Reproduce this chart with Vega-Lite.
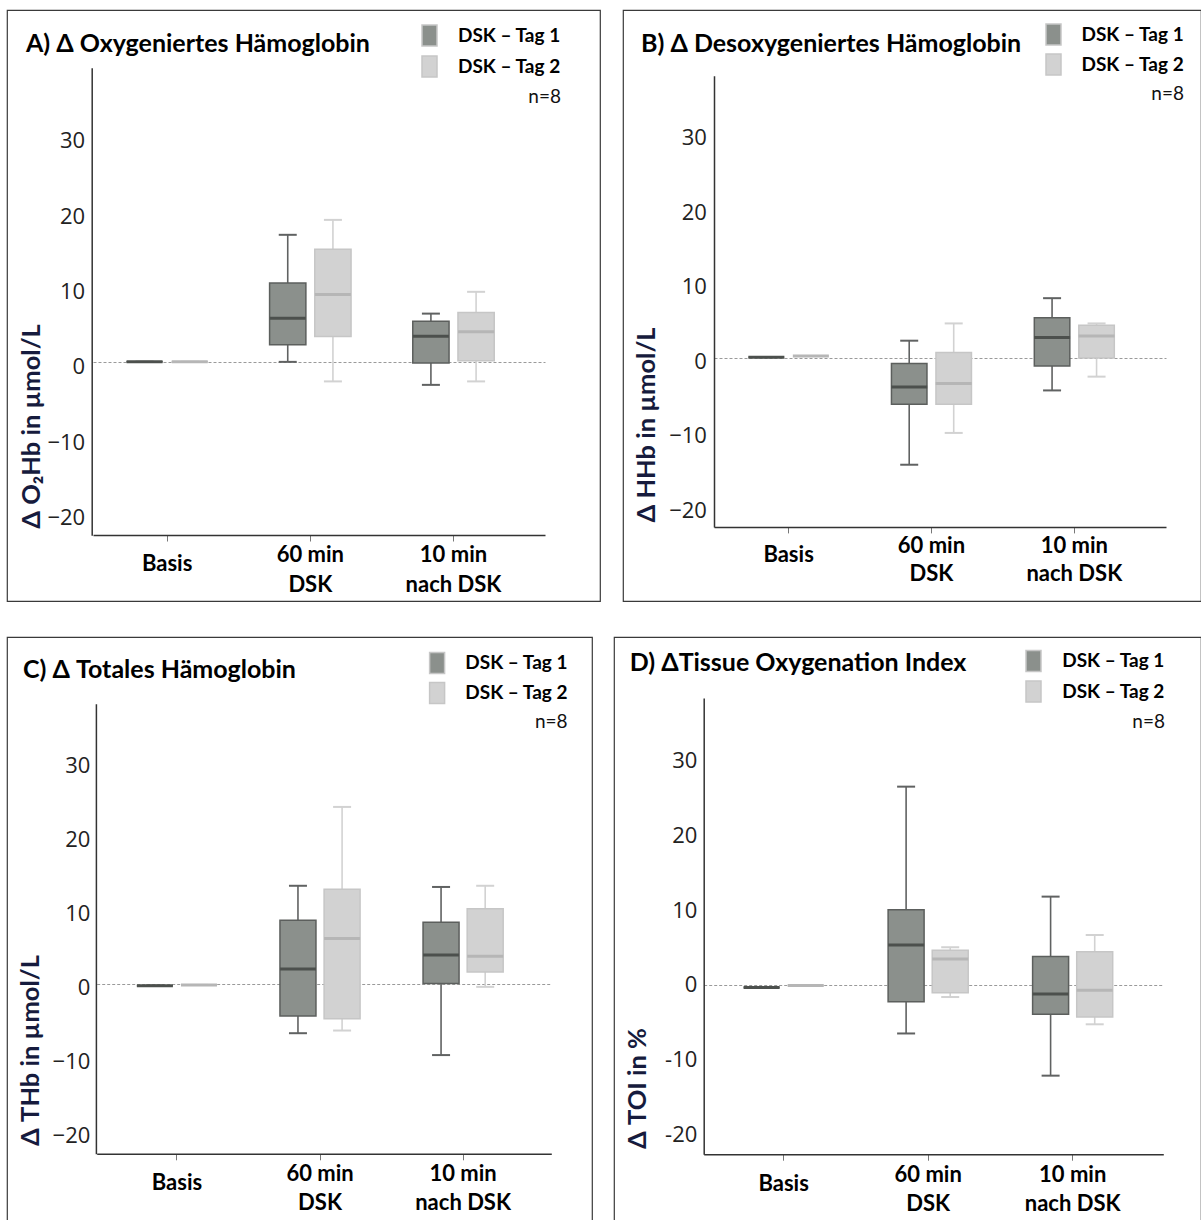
{
  "$schema": "https://vega.github.io/schema/vega-lite/v6.json",
  "padding": {"left": 6, "top": 9, "right": 0, "bottom": 0},
  "background": "white",
  "config": {
    "view": {"stroke": "#3a3a3a", "strokeWidth": 1.2, "fill": "white"},
    "font": "Lato"
  },
  "datasets": {
    "A": [
      {"zeit": "Basis", "tag": "DSK – Tag 1", "min": 0, "q1": 0, "median": 0, "q3": 0, "max": 0},
      {"zeit": "Basis", "tag": "DSK – Tag 2", "min": 0, "q1": 0, "median": 0, "q3": 0, "max": 0},
      {"zeit": "60 min DSK", "tag": "DSK – Tag 1", "min": 0, "q1": 2.28, "median": 5.79, "q3": 10.46, "max": 16.85},
      {"zeit": "60 min DSK", "tag": "DSK – Tag 2", "min": -2.59, "q1": 3.35, "median": 8.93, "q3": 14.92, "max": 18.83},
      {"zeit": "10 min nach DSK", "tag": "DSK – Tag 1", "min": -3.05, "q1": -0.15, "median": 3.4, "q3": 5.38, "max": 6.4},
      {"zeit": "10 min nach DSK", "tag": "DSK – Tag 2", "min": -2.59, "q1": 0.15, "median": 4.01, "q3": 6.55, "max": 9.29}
    ],
    "B": [
      {"zeit": "Basis", "tag": "DSK – Tag 1", "min": 0.1, "q1": 0.1, "median": 0.1, "q3": 0.1, "max": 0.1},
      {"zeit": "Basis", "tag": "DSK – Tag 2", "min": 0.25, "q1": 0.25, "median": 0.25, "q3": 0.25, "max": 0.25},
      {"zeit": "60 min DSK", "tag": "DSK – Tag 1", "min": -14.35, "q1": -6.22, "median": -3.91, "q3": -0.77, "max": 2.31},
      {"zeit": "60 min DSK", "tag": "DSK – Tag 2", "min": -10.08, "q1": -6.22, "median": -3.45, "q3": 0.72, "max": 4.63},
      {"zeit": "10 min nach DSK", "tag": "DSK – Tag 1", "min": -4.37, "q1": -1.08, "median": 2.73, "q3": 5.4, "max": 8.02},
      {"zeit": "10 min nach DSK", "tag": "DSK – Tag 2", "min": -2.52, "q1": 0, "median": 2.93, "q3": 4.37, "max": 4.63}
    ],
    "C": [
      {"zeit": "Basis", "tag": "DSK – Tag 1", "min": -0.2, "q1": -0.2, "median": -0.2, "q3": -0.2, "max": -0.2},
      {"zeit": "Basis", "tag": "DSK – Tag 2", "min": -0.1, "q1": -0.1, "median": -0.1, "q3": -0.1, "max": -0.1},
      {"zeit": "60 min DSK", "tag": "DSK – Tag 1", "min": -6.63, "q1": -4.3, "median": 2.07, "q3": 8.65, "max": 13.32},
      {"zeit": "60 min DSK", "tag": "DSK – Tag 2", "min": -6.27, "q1": -4.66, "median": 6.17, "q3": 12.85, "max": 23.99},
      {"zeit": "10 min nach DSK", "tag": "DSK – Tag 1", "min": -9.59, "q1": 0.1, "median": 3.94, "q3": 8.39, "max": 13.16},
      {"zeit": "10 min nach DSK", "tag": "DSK – Tag 2", "min": -0.36, "q1": 1.66, "median": 3.78, "q3": 10.21, "max": 13.32}
    ],
    "D": [
      {"zeit": "Basis", "tag": "DSK – Tag 1", "min": -0.36, "q1": -0.36, "median": -0.36, "q3": -0.36, "max": -0.36},
      {"zeit": "Basis", "tag": "DSK – Tag 2", "min": -0.1, "q1": -0.1, "median": -0.1, "q3": -0.1, "max": -0.1},
      {"zeit": "60 min DSK", "tag": "DSK – Tag 1", "min": -6.52, "q1": -2.26, "median": 5.34, "q3": 10.06, "max": 26.54},
      {"zeit": "60 min DSK", "tag": "DSK – Tag 2", "min": -1.64, "q1": -1.08, "median": 3.44, "q3": 4.62, "max": 5.03},
      {"zeit": "10 min nach DSK", "tag": "DSK – Tag 1", "min": -12.17, "q1": -3.95, "median": -1.23, "q3": 3.8, "max": 11.81},
      {"zeit": "10 min nach DSK", "tag": "DSK – Tag 2", "min": -5.29, "q1": -4.31, "median": -0.72, "q3": 4.41, "max": 6.67}
    ]
  },
  "spacing": 34,
  "resolve": {"scale": {"color": "independent", "x": "independent", "y": "independent", "xOffset": "independent"}, "legend": {"color": "independent"}, "axis": {"x": "independent", "y": "independent"}},
  "vconcat": [
    {
      "hconcat": [
        {
          "width": 593, "height": 591,
          "title": {"text": "A) Δ Oxygeniertes Hämoglobin", "anchor": "start", "frame": "group", "orient": "top", "offset": 0, "dx": 19, "dy": 66.5, "baseline": "alphabetic", "font": "Lato", "fontSize": 25, "fontWeight": "bold", "color": "#000000"},
          "data": {"name": "A"},
          "encoding": {
            "x": {"field": "zeit", "type": "nominal", "sort": ["Basis", "60 min DSK", "10 min nach DSK"],
              "scale": {"range": [86, 538], "paddingInner": 0.431, "paddingOuter": 0.294, "align": 0.397},
              "axis": {"title": null, "orient": "bottom", "offset": -66, "domainColor": "#333333", "domainWidth": 1.5, "ticks": true, "tickColor": "#777777", "tickSize": 6, "tickWidth": 1, "labelFont": "Lato", "labelFontSize": 22, "labelFontWeight": "bold", "labelColor": "#000000", "labelAngle": 0, "labelBaseline": "middle", "labelPadding": {"condition": {"test": "datum.value === 'Basis'", "value": 22.6}, "value": 13}, "labelLineHeight": 30.6, "labelOverlap": false, "labelLimit": 400, "grid": false,
                "labelExpr": "datum.value == '60 min DSK' ? ['60 min', 'DSK'] : datum.value == '10 min nach DSK' ? ['10 min', 'nach DSK'] : datum.label"}},
            "xOffset": {"field": "tag", "type": "nominal", "sort": ["DSK – Tag 1", "DSK – Tag 2"], "scale": {"paddingInner": 0.197, "paddingOuter": 0}}
          },
          "layer": [
            {"mark": {"type": "rule", "strokeWidth": 1.6, "opacity": 1},
              "encoding": {
                "y": {"field": "min", "type": "quantitative", "title": "Δ O₂Hb in µmol/L",
                  "scale": {"domain": [-23, 39], "range": [525.3, 57.8], "nice": false, "zero": false},
                  "axis": {"orient": "left", "offset": -84.7, "values": [-20, -10, 0, 10, 20, 30], "domainColor": "#333333", "domainWidth": 1.5, "ticks": false, "tickSize": 0, "labelFont": "Open Sans", "labelFontSize": 22, "labelColor": "#222222", "labelPadding": 7, "labelOffset": 5, "grid": true, "gridColor": "#9a9a9a", "gridDash": [3, 2], "gridWidth": 1, "gridOpacity": {"condition": {"test": "datum.value === 0", "value": 1}, "value": 0}, "titleFont": "Lato", "titleFontSize": 25.5, "titleFontWeight": "bold", "titleColor": "#161b3d", "titleAngle": -90, "titleAlign": "center", "titleBaseline": "bottom", "titleX": -47, "titleY": 416}},
                "y2": {"field": "max"},
                "stroke": {"condition": {"test": "datum.tag === 'DSK – Tag 1'", "value": "#606262"}, "value": "#d2d2d2"}
              }},
            {"mark": {"type": "tick", "size": 18, "thickness": 2, "opacity": 1},
              "encoding": {
                "y": {"field": "max", "type": "quantitative", "title": "Δ O₂Hb in µmol/L", "scale": {"domain": [-23, 39], "range": [525.3, 57.8], "nice": false, "zero": false}},
                "color": {"condition": {"test": "datum.tag === 'DSK – Tag 1'", "value": "#606262"}, "value": "#d2d2d2"}
              }},
            {"mark": {"type": "tick", "size": 18, "thickness": 2, "opacity": 1},
              "encoding": {
                "y": {"field": "min", "type": "quantitative", "title": "Δ O₂Hb in µmol/L", "scale": {"domain": [-23, 39], "range": [525.3, 57.8], "nice": false, "zero": false}},
                "color": {"condition": {"test": "datum.tag === 'DSK – Tag 1'", "value": "#606262"}, "value": "#d2d2d2"}
              }},
            {"mark": {"type": "bar", "strokeWidth": 1.5, "opacity": 1},
              "encoding": {
                "y": {"field": "q1", "type": "quantitative", "title": "Δ O₂Hb in µmol/L", "scale": {"domain": [-23, 39], "range": [525.3, 57.8], "nice": false, "zero": false}},
                "y2": {"field": "q3"},
                "color": {"field": "tag", "type": "nominal", "sort": ["DSK – Tag 1", "DSK – Tag 2"],
                  "scale": {"domain": ["DSK – Tag 1", "DSK – Tag 2"], "range": ["#8b908c", "#d2d2d2"]},
                  "legend": {"orient": "none", "legendX": 411, "legendY": 14, "direction": "vertical", "padding": 0,
                    "title": "n=8", "titleOrient": "bottom", "titleAnchor": "end", "titleAlign": "right", "titleFont": "Lato", "titleFontSize": 19, "titleFontWeight": "normal", "titleColor": "#111111", "titlePadding": 8,
                    "symbolType": "M-0.714,-1H0.714V1H-0.714Z", "symbolSize": 441, "symbolStrokeWidth": 1.5, "symbolOpacity": 1,
                    "labelFont": "Lato", "labelFontSize": 19, "labelFontWeight": "bold", "labelColor": "#000000", "labelOffset": 17, "rowPadding": 4,
                    "encode": {"symbols": {"update": {"fill": {"signal": "datum.value === 'DSK – Tag 1' ? '#7a7a7a' : '#dadada'"}, "stroke": {"signal": "datum.value === 'DSK – Tag 1' ? '#2a2a2a' : '#a0a0a0'"}}}}}},
                "stroke": {"condition": {"test": "datum.tag === 'DSK – Tag 1'", "value": "#5c5f5d"}, "value": "#c6c6c6"}
              }},
            {"mark": {"type": "tick", "size": 36, "thickness": 3, "opacity": 1},
              "encoding": {
                "y": {"field": "median", "type": "quantitative", "title": "Δ O₂Hb in µmol/L", "scale": {"domain": [-23, 39], "range": [525.3, 57.8], "nice": false, "zero": false}},
                "color": {"condition": {"test": "datum.tag === 'DSK – Tag 1'", "value": "#4c504d"}, "value": "#b6b6b6"}
              }}
          ]
        },
        {
          "width": 578, "height": 591,
          "title": {"text": "B) Δ Desoxygeniertes Hämoglobin", "anchor": "start", "frame": "group", "orient": "top", "offset": 0, "dx": 18, "dy": 67, "baseline": "alphabetic", "font": "Lato", "fontSize": 25, "fontWeight": "bold", "color": "#000000"},
          "data": {"name": "B"},
          "encoding": {
            "x": {"field": "zeit", "type": "nominal", "sort": ["Basis", "60 min DSK", "10 min nach DSK"],
              "scale": {"range": [91, 543], "paddingInner": 0.44, "paddingOuter": 0.302, "align": 0.401},
              "axis": {"title": null, "orient": "bottom", "offset": -74.1, "domainColor": "#333333", "domainWidth": 1.5, "ticks": true, "tickColor": "#777777", "tickSize": 6, "tickWidth": 1, "labelFont": "Lato", "labelFontSize": 22, "labelFontWeight": "bold", "labelColor": "#000000", "labelAngle": 0, "labelBaseline": "middle", "labelPadding": {"condition": {"test": "datum.value === 'Basis'", "value": 21.9}, "value": 12.4}, "labelLineHeight": 28.7, "labelOverlap": false, "labelLimit": 400, "grid": false,
                "labelExpr": "datum.value == '60 min DSK' ? ['60 min', 'DSK'] : datum.value == '10 min nach DSK' ? ['10 min', 'nach DSK'] : datum.label"}},
            "xOffset": {"field": "tag", "type": "nominal", "sort": ["DSK – Tag 1", "DSK – Tag 2"], "scale": {"paddingInner": 0.202, "paddingOuter": 0}}
          },
          "layer": [
            {"mark": {"type": "rule", "strokeWidth": 1.6, "opacity": 1},
              "encoding": {
                "y": {"field": "min", "type": "quantitative", "title": "Δ HHb in µmol/L",
                  "scale": {"domain": [-22.7, 37.9], "range": [516.9, 65.7], "nice": false, "zero": false},
                  "axis": {"orient": "left", "offset": -91, "values": [-20, -10, 0, 10, 20, 30], "domainColor": "#333333", "domainWidth": 1.5, "ticks": false, "tickSize": 0, "labelFont": "Open Sans", "labelFontSize": 22, "labelColor": "#222222", "labelPadding": 7.6, "labelOffset": 3.4, "grid": true, "gridColor": "#9a9a9a", "gridDash": [3, 2], "gridWidth": 1, "gridOpacity": {"condition": {"test": "datum.value === 0", "value": 1}, "value": 0}, "titleFont": "Lato", "titleFontSize": 25.5, "titleFontWeight": "bold", "titleColor": "#161b3d", "titleAngle": -90, "titleAlign": "center", "titleBaseline": "bottom", "titleX": -55, "titleY": 414.5}},
                "y2": {"field": "max"},
                "stroke": {"condition": {"test": "datum.tag === 'DSK – Tag 1'", "value": "#606262"}, "value": "#d2d2d2"}
              }},
            {"mark": {"type": "tick", "size": 18, "thickness": 2, "opacity": 1},
              "encoding": {
                "y": {"field": "max", "type": "quantitative", "title": "Δ HHb in µmol/L", "scale": {"domain": [-22.7, 37.9], "range": [516.9, 65.7], "nice": false, "zero": false}},
                "color": {"condition": {"test": "datum.tag === 'DSK – Tag 1'", "value": "#606262"}, "value": "#d2d2d2"}
              }},
            {"mark": {"type": "tick", "size": 18, "thickness": 2, "opacity": 1},
              "encoding": {
                "y": {"field": "min", "type": "quantitative", "title": "Δ HHb in µmol/L", "scale": {"domain": [-22.7, 37.9], "range": [516.9, 65.7], "nice": false, "zero": false}},
                "color": {"condition": {"test": "datum.tag === 'DSK – Tag 1'", "value": "#606262"}, "value": "#d2d2d2"}
              }},
            {"mark": {"type": "bar", "strokeWidth": 1.5, "opacity": 1},
              "encoding": {
                "y": {"field": "q1", "type": "quantitative", "title": "Δ HHb in µmol/L", "scale": {"domain": [-22.7, 37.9], "range": [516.9, 65.7], "nice": false, "zero": false}},
                "y2": {"field": "q3"},
                "color": {"field": "tag", "type": "nominal", "sort": ["DSK – Tag 1", "DSK – Tag 2"],
                  "scale": {"domain": ["DSK – Tag 1", "DSK – Tag 2"], "range": ["#8b908c", "#d2d2d2"]},
                  "legend": {"orient": "none", "legendX": 419, "legendY": 13, "direction": "vertical", "padding": 0,
                    "title": "n=8", "titleOrient": "bottom", "titleAnchor": "end", "titleAlign": "right", "titleFont": "Lato", "titleFontSize": 19, "titleFontWeight": "normal", "titleColor": "#111111", "titlePadding": 6.5,
                    "symbolType": "M-0.714,-1H0.714V1H-0.714Z", "symbolSize": 441, "symbolStrokeWidth": 1.5, "symbolOpacity": 1,
                    "labelFont": "Lato", "labelFontSize": 19, "labelFontWeight": "bold", "labelColor": "#000000", "labelOffset": 16.5, "rowPadding": 3,
                    "encode": {"symbols": {"update": {"fill": {"signal": "datum.value === 'DSK – Tag 1' ? '#7a7a7a' : '#dadada'"}, "stroke": {"signal": "datum.value === 'DSK – Tag 1' ? '#2a2a2a' : '#a0a0a0'"}}}}}},
                "stroke": {"condition": {"test": "datum.tag === 'DSK – Tag 1'", "value": "#5c5f5d"}, "value": "#c6c6c6"}
              }},
            {"mark": {"type": "tick", "size": 36, "thickness": 3, "opacity": 1},
              "encoding": {
                "y": {"field": "median", "type": "quantitative", "title": "Δ HHb in µmol/L", "scale": {"domain": [-22.7, 37.9], "range": [516.9, 65.7], "nice": false, "zero": false}},
                "color": {"condition": {"test": "datum.tag === 'DSK – Tag 1'", "value": "#4c504d"}, "value": "#b6b6b6"}
              }}
          ]
        }
      ],
      "spacing": 23,
      "bounds": "flush",
      "resolve": {"scale": {"color": "independent", "x": "independent", "y": "independent", "xOffset": "independent"}, "legend": {"color": "independent"}, "axis": {"x": "independent", "y": "independent"}}
    },
    {
      "hconcat": [
        {
          "width": 585, "height": 585,
          "title": {"text": "C) Δ Totales Hämoglobin", "anchor": "start", "frame": "group", "orient": "top", "offset": 0, "dx": 16, "dy": 65.5, "baseline": "alphabetic", "font": "Lato", "fontSize": 25, "fontWeight": "bold", "color": "#000000"},
          "data": {"name": "C"},
          "encoding": {
            "x": {"field": "zeit", "type": "nominal", "sort": ["Basis", "60 min DSK", "10 min nach DSK"],
              "scale": {"range": [89.7, 544.3], "paddingInner": 0.44, "paddingOuter": 0.3085, "align": 0.455},
              "axis": {"title": null, "orient": "bottom", "offset": -68.2, "domainColor": "#333333", "domainWidth": 1.5, "ticks": true, "tickColor": "#777777", "tickSize": 6, "tickWidth": 1, "labelFont": "Lato", "labelFontSize": 22, "labelFontWeight": "bold", "labelColor": "#000000", "labelAngle": 0, "labelBaseline": "middle", "labelPadding": {"condition": {"test": "datum.value === 'Basis'", "value": 22.3}, "value": 13.9}, "labelLineHeight": 28.7, "labelOverlap": false, "labelLimit": 400, "grid": false,
                "labelExpr": "datum.value == '60 min DSK' ? ['60 min', 'DSK'] : datum.value == '10 min nach DSK' ? ['10 min', 'nach DSK'] : datum.label"}},
            "xOffset": {"field": "tag", "type": "nominal", "sort": ["DSK – Tag 1", "DSK – Tag 2"], "scale": {"paddingInner": 0.184, "paddingOuter": 0}}
          },
          "layer": [
            {"mark": {"type": "rule", "strokeWidth": 1.6, "opacity": 1},
              "encoding": {
                "y": {"field": "min", "type": "quantitative", "title": "Δ THb in µmol/L",
                  "scale": {"domain": [-22.95, 37.96], "range": [516.8, 66.7], "nice": false, "zero": false},
                  "axis": {"orient": "left", "offset": -88.9, "values": [-20, -10, 0, 10, 20, 30], "domainColor": "#333333", "domainWidth": 1.5, "ticks": false, "tickSize": 0, "labelFont": "Open Sans", "labelFontSize": 22, "labelColor": "#222222", "labelPadding": 6.1, "labelOffset": 3, "grid": true, "gridColor": "#9a9a9a", "gridDash": [3, 2], "gridWidth": 1, "gridOpacity": {"condition": {"test": "datum.value === 0", "value": 1}, "value": 0}, "titleFont": "Lato", "titleFontSize": 25.5, "titleFontWeight": "bold", "titleColor": "#161b3d", "titleAngle": -90, "titleAlign": "center", "titleBaseline": "bottom", "titleX": -52, "titleY": 413}},
                "y2": {"field": "max"},
                "stroke": {"condition": {"test": "datum.tag === 'DSK – Tag 1'", "value": "#606262"}, "value": "#d2d2d2"}
              }},
            {"mark": {"type": "tick", "size": 18, "thickness": 2, "opacity": 1},
              "encoding": {
                "y": {"field": "max", "type": "quantitative", "title": "Δ THb in µmol/L", "scale": {"domain": [-22.95, 37.96], "range": [516.8, 66.7], "nice": false, "zero": false}},
                "color": {"condition": {"test": "datum.tag === 'DSK – Tag 1'", "value": "#606262"}, "value": "#d2d2d2"}
              }},
            {"mark": {"type": "tick", "size": 18, "thickness": 2, "opacity": 1},
              "encoding": {
                "y": {"field": "min", "type": "quantitative", "title": "Δ THb in µmol/L", "scale": {"domain": [-22.95, 37.96], "range": [516.8, 66.7], "nice": false, "zero": false}},
                "color": {"condition": {"test": "datum.tag === 'DSK – Tag 1'", "value": "#606262"}, "value": "#d2d2d2"}
              }},
            {"mark": {"type": "bar", "strokeWidth": 1.5, "opacity": 1},
              "encoding": {
                "y": {"field": "q1", "type": "quantitative", "title": "Δ THb in µmol/L", "scale": {"domain": [-22.95, 37.96], "range": [516.8, 66.7], "nice": false, "zero": false}},
                "y2": {"field": "q3"},
                "color": {"field": "tag", "type": "nominal", "sort": ["DSK – Tag 1", "DSK – Tag 2"],
                  "scale": {"domain": ["DSK – Tag 1", "DSK – Tag 2"], "range": ["#8b908c", "#d2d2d2"]},
                  "legend": {"orient": "none", "legendX": 418.6, "legendY": 14.5, "direction": "vertical", "padding": 0,
                    "title": "n=8", "titleOrient": "bottom", "titleAnchor": "end", "titleAlign": "right", "titleFont": "Lato", "titleFontSize": 19, "titleFontWeight": "normal", "titleColor": "#111111", "titlePadding": 6,
                    "symbolType": "M-0.714,-1H0.714V1H-0.714Z", "symbolSize": 441, "symbolStrokeWidth": 1.5, "symbolOpacity": 1,
                    "labelFont": "Lato", "labelFontSize": 19, "labelFontWeight": "bold", "labelColor": "#000000", "labelOffset": 16.7, "rowPadding": 3,
                    "encode": {"symbols": {"update": {"fill": {"signal": "datum.value === 'DSK – Tag 1' ? '#7a7a7a' : '#dadada'"}, "stroke": {"signal": "datum.value === 'DSK – Tag 1' ? '#2a2a2a' : '#a0a0a0'"}}}}}},
                "stroke": {"condition": {"test": "datum.tag === 'DSK – Tag 1'", "value": "#5c5f5d"}, "value": "#c6c6c6"}
              }},
            {"mark": {"type": "tick", "size": 36, "thickness": 3, "opacity": 1},
              "encoding": {
                "y": {"field": "median", "type": "quantitative", "title": "Δ THb in µmol/L", "scale": {"domain": [-22.95, 37.96], "range": [516.8, 66.7], "nice": false, "zero": false}},
                "color": {"condition": {"test": "datum.tag === 'DSK – Tag 1'", "value": "#4c504d"}, "value": "#b6b6b6"}
              }}
          ]
        },
        {
          "width": 587, "height": 585,
          "title": {"text": "D) ΔTissue Oxygenation Index", "anchor": "start", "frame": "group", "orient": "top", "offset": 0, "dx": 15.7, "dy": 58.5, "baseline": "alphabetic", "font": "Lato", "fontSize": 25, "fontWeight": "bold", "color": "#000000"},
          "data": {"name": "D"},
          "encoding": {
            "x": {"field": "zeit", "type": "nominal", "sort": ["Basis", "60 min DSK", "10 min nach DSK"],
              "scale": {"range": [89.7, 549.3], "paddingInner": 0.4457, "paddingOuter": 0.3132, "align": 0.441},
              "axis": {"title": null, "orient": "bottom", "offset": -67.8, "domainColor": "#333333", "domainWidth": 1.5, "ticks": true, "tickColor": "#777777", "tickSize": 6, "tickWidth": 1, "labelFont": "Lato", "labelFontSize": 22, "labelFontWeight": "bold", "labelColor": "#000000", "labelAngle": 0, "labelBaseline": "middle", "labelPadding": {"condition": {"test": "datum.value === 'Basis'", "value": 22.8}, "value": 14.3}, "labelLineHeight": 28.8, "labelOverlap": false, "labelLimit": 400, "grid": false,
                "labelExpr": "datum.value == '60 min DSK' ? ['60 min', 'DSK'] : datum.value == '10 min nach DSK' ? ['10 min', 'nach DSK'] : datum.label"}},
            "xOffset": {"field": "tag", "type": "nominal", "sort": ["DSK – Tag 1", "DSK – Tag 2"], "scale": {"paddingInner": 0.184, "paddingOuter": 0}}
          },
          "layer": [
            {"mark": {"type": "rule", "strokeWidth": 1.6, "opacity": 1},
              "encoding": {
                "y": {"field": "min", "type": "quantitative", "title": "Δ TOI in %",
                  "scale": {"domain": [-22.69, 38.4], "range": [517.2, 61.1], "nice": false, "zero": false},
                  "axis": {"orient": "left", "offset": -89.7, "values": [-20, -10, 0, 10, 20, 30], "domainColor": "#333333", "domainWidth": 1.5, "ticks": false, "tickSize": 0, "labelFont": "Open Sans", "labelFontSize": 22, "labelColor": "#222222", "labelPadding": 6.9, "labelOffset": 0, "labelExpr": "replace(datum.label, '−', '-')", "grid": true, "gridColor": "#9a9a9a", "gridDash": [3, 2], "gridWidth": 1, "gridOpacity": {"condition": {"test": "datum.value === 0", "value": 1}, "value": 0}, "titleFont": "Lato", "titleFontSize": 25.5, "titleFontWeight": "bold", "titleColor": "#161b3d", "titleAngle": -90, "titleAlign": "center", "titleBaseline": "bottom", "titleX": -53, "titleY": 451}},
                "y2": {"field": "max"},
                "stroke": {"condition": {"test": "datum.tag === 'DSK – Tag 1'", "value": "#606262"}, "value": "#d2d2d2"}
              }},
            {"mark": {"type": "tick", "size": 18, "thickness": 2, "opacity": 1},
              "encoding": {
                "y": {"field": "max", "type": "quantitative", "title": "Δ TOI in %", "scale": {"domain": [-22.69, 38.4], "range": [517.2, 61.1], "nice": false, "zero": false}},
                "color": {"condition": {"test": "datum.tag === 'DSK – Tag 1'", "value": "#606262"}, "value": "#d2d2d2"}
              }},
            {"mark": {"type": "tick", "size": 18, "thickness": 2, "opacity": 1},
              "encoding": {
                "y": {"field": "min", "type": "quantitative", "title": "Δ TOI in %", "scale": {"domain": [-22.69, 38.4], "range": [517.2, 61.1], "nice": false, "zero": false}},
                "color": {"condition": {"test": "datum.tag === 'DSK – Tag 1'", "value": "#606262"}, "value": "#d2d2d2"}
              }},
            {"mark": {"type": "bar", "strokeWidth": 1.5, "opacity": 1},
              "encoding": {
                "y": {"field": "q1", "type": "quantitative", "title": "Δ TOI in %", "scale": {"domain": [-22.69, 38.4], "range": [517.2, 61.1], "nice": false, "zero": false}},
                "y2": {"field": "q3"},
                "color": {"field": "tag", "type": "nominal", "sort": ["DSK – Tag 1", "DSK – Tag 2"],
                  "scale": {"domain": ["DSK – Tag 1", "DSK – Tag 2"], "range": ["#8b908c", "#d2d2d2"]},
                  "legend": {"orient": "none", "legendX": 408, "legendY": 12.5, "direction": "vertical", "padding": 0,
                    "title": "n=8", "titleOrient": "bottom", "titleAnchor": "end", "titleAlign": "right", "titleFont": "Lato", "titleFontSize": 19, "titleFontWeight": "normal", "titleColor": "#111111", "titlePadding": 7,
                    "symbolType": "M-0.714,-1H0.714V1H-0.714Z", "symbolSize": 441, "symbolStrokeWidth": 1.5, "symbolOpacity": 1,
                    "labelFont": "Lato", "labelFontSize": 19, "labelFontWeight": "bold", "labelColor": "#000000", "labelOffset": 17.2, "rowPadding": 3.6,
                    "encode": {"symbols": {"update": {"fill": {"signal": "datum.value === 'DSK – Tag 1' ? '#7a7a7a' : '#dadada'"}, "stroke": {"signal": "datum.value === 'DSK – Tag 1' ? '#2a2a2a' : '#a0a0a0'"}}}}}},
                "stroke": {"condition": {"test": "datum.tag === 'DSK – Tag 1'", "value": "#5c5f5d"}, "value": "#c6c6c6"}
              }},
            {"mark": {"type": "tick", "size": 36, "thickness": 3, "opacity": 1},
              "encoding": {
                "y": {"field": "median", "type": "quantitative", "title": "Δ TOI in %", "scale": {"domain": [-22.69, 38.4], "range": [517.2, 61.1], "nice": false, "zero": false}},
                "color": {"condition": {"test": "datum.tag === 'DSK – Tag 1'", "value": "#4c504d"}, "value": "#b6b6b6"}
              }}
          ]
        }
      ],
      "spacing": 22,
      "bounds": "flush",
      "resolve": {"scale": {"color": "independent", "x": "independent", "y": "independent", "xOffset": "independent"}, "legend": {"color": "independent"}, "axis": {"x": "independent", "y": "independent"}}
    }
  ]
}
